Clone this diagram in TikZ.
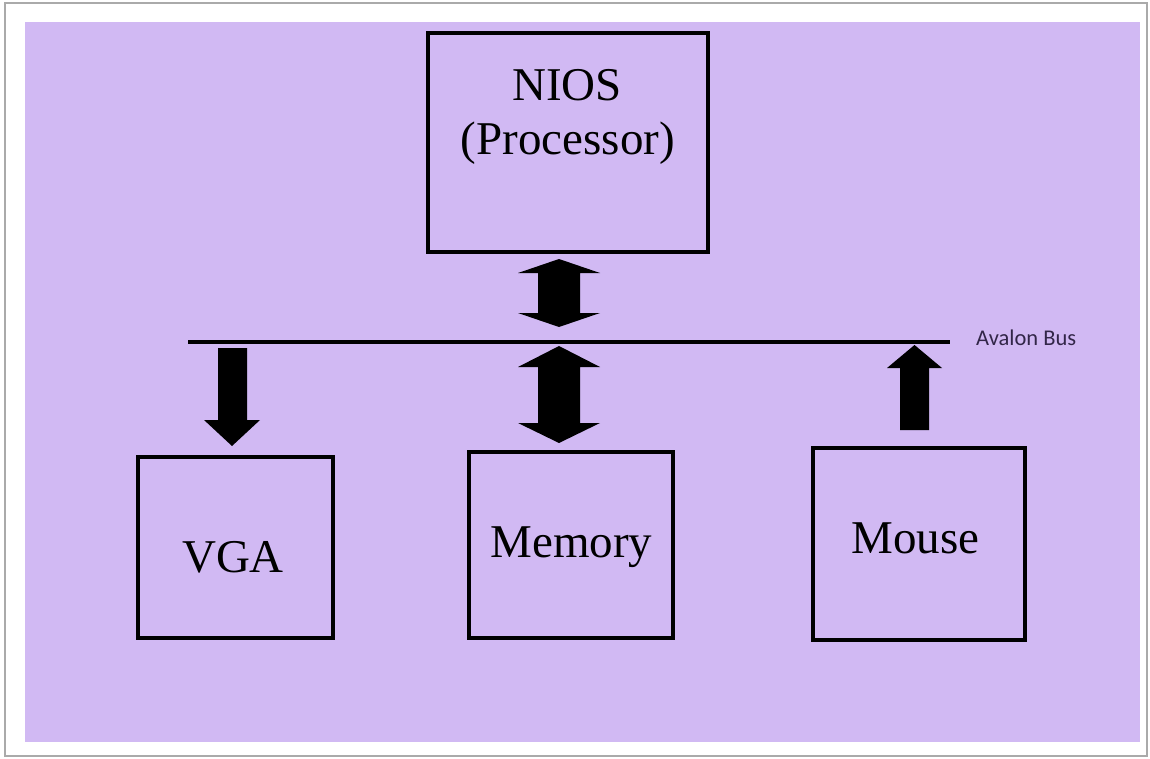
\documentclass[tikz,border=0pt]{standalone}
\usepackage{fontspec}
\setmainfont{Liberation Serif}
\newfontfamily\busfont{Carlito}
\definecolor{bgpurple}{RGB}{209,185,243}
\definecolor{frameg}{RGB}{170,170,170}
\definecolor{bustext}{RGB}{50,38,72}
\begin{document}
\begin{tikzpicture}[x=1pt,y=-1pt,
  box/.style={draw=black,line width=3.8pt,rectangle,inner sep=0pt},
  lbl/.style={font=\fontsize{47}{54}\selectfont,text=black,inner sep=0pt,anchor=base},
  blockarrow/.style={fill=black}]
\useasboundingbox (0,0) rectangle (1150,759);
\fill[white] (0,0) rectangle (1150,759);
\draw[frameg,line width=1.5pt] (5,3) rectangle (1147,756);
\fill[bgpurple] (25,22) rectangle (1140,742);
% boxes
\node[box,minimum width=280pt,minimum height=219pt] (nios) at (568,142.5) {};
\node[box,minimum width=195pt,minimum height=181pt] (vga) at (235.5,547.5) {};
\node[box,minimum width=204pt,minimum height=186pt] (mem) at (571,545) {};
\node[box,minimum width=212pt,minimum height=192pt] (mouse) at (919,544) {};
% labels
\node[lbl] (niosA) at (567,101) {NIOS};
\node[lbl] (niosB) at (568,155) {(Processor)};
\node[lbl] (vgaL) at (233,572) {VGA};
\node[lbl] (memL) at (571.5,557) {Memory};
\node[lbl] (mouseL) at (915.5,553) {Mouse};
% bus
\coordinate (busL) at (188,342);
\coordinate (busR) at (950,342);
\draw[black,line width=3.8pt] (busL) -- (busR);
\node[font=\busfont\fontsize{22.5}{26}\selectfont,text=bustext,anchor=base west,inner sep=0pt] (busLabel) at (976,345) {Avalon Bus};
% arrows
\fill[blockarrow] (559,259) -- (600,273) -- (580,273) -- (580,313) -- (600,313) -- (559,327) -- (518,313) -- (538,313) -- (538,273) -- (518,273) -- cycle;
\fill[blockarrow] (559,346) -- (600,367) -- (580,367) -- (580,423) -- (600,423) -- (559,443) -- (518,423) -- (538,423) -- (538,367) -- (518,367) -- cycle;
\fill[blockarrow] (218,348) -- (247,348) -- (247,420) -- (260,420) -- (232,446) -- (204,420) -- (218,420) -- cycle;
\fill[blockarrow] (914.5,345) -- (942,368) -- (929,368) -- (929,430) -- (900,430) -- (900,368) -- (887,368) -- cycle;
\end{tikzpicture}
\end{document}
